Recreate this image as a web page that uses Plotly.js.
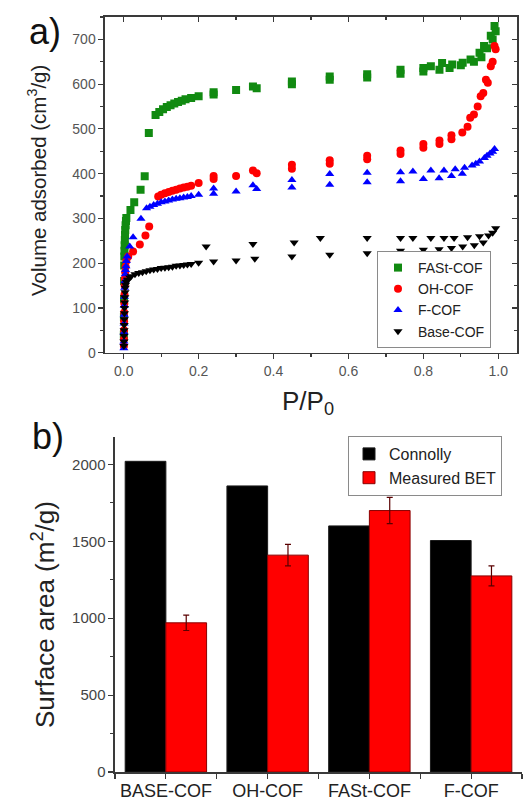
<!DOCTYPE html>
<html>
<head>
<meta charset="utf-8">
<script src="https://cdn.plot.ly/plotly-3.0.1.min.js"></script>
<style>html,body{margin:0;padding:0;background:#fff;}#chart{width:528px;height:803px;}</style>
</head>
<body>
<div id="chart"></div>
<script>
// ---- Panel a) isotherms ----
const seriesNames = ['FASt-COF', 'OH-COF', 'F-COF', 'Base-COF'];
const fastX = [0.0004,0.0006,0.0008,0.001,0.0013,0.0016,0.002,0.0025,0.003,0.0035,0.004,0.005,0.006,0.007,0.018,0.028,0.045,0.056,0.067,0.085,0.095,0.105,0.115,0.125,0.135,0.145,0.155,0.165,0.18,0.2,0.24,0.24,0.3,0.345,0.355,0.449,0.449,0.55,0.55,0.65,0.65,0.739,0.739,0.8,0.8,0.82,0.843,0.85,0.87,0.877,0.9,0.905,0.926,0.935,0.95,0.955,0.962,0.97,0.98,0.985,0.99,0.993];
const fastY = [40,80,120,160,195,215,228,240,252,263,274,285,294,301,319,336,364,394,491,531,538,544,549,553,557,560,563,566,569,573,577,582,587,595,591,600,606,610,617,615,622,623,632,628,636,640,632,647,636,644,642,648,655,650,670,660,685,680,708,700,730,718];
const ohX = [0.0004,0.0006,0.0008,0.001,0.0013,0.0016,0.002,0.0025,0.003,0.004,0.005,0.007,0.012,0.025,0.043,0.058,0.068,0.092,0.1,0.11,0.12,0.13,0.14,0.15,0.16,0.17,0.18,0.2,0.24,0.24,0.3,0.345,0.355,0.449,0.449,0.55,0.55,0.65,0.65,0.739,0.739,0.8,0.8,0.843,0.843,0.875,0.875,0.904,0.918,0.925,0.935,0.945,0.953,0.96,0.967,0.972,0.98,0.985,0.99,0.993];
const ohY = [15,30,50,70,90,110,130,150,165,180,192,205,215,226,242,262,282,349,353,356,359,362,364,367,369,371,373,379,388,395,395,407,401,411,420,422,430,432,440,444,452,458,466,466,474,477,486,492,505,525,532,550,573,580,610,603,640,650,685,678];
const fX = [0.0004,0.0006,0.0008,0.001,0.0013,0.0016,0.002,0.0025,0.003,0.004,0.005,0.006,0.007,0.009,0.016,0.025,0.046,0.061,0.07,0.08,0.09,0.1,0.11,0.12,0.13,0.14,0.15,0.16,0.17,0.18,0.2,0.24,0.24,0.3,0.345,0.355,0.449,0.449,0.55,0.55,0.65,0.65,0.739,0.739,0.772,0.8,0.82,0.842,0.855,0.875,0.885,0.904,0.91,0.93,0.94,0.95,0.963,0.97,0.978,0.985,0.99];
const fY = [10,25,45,65,85,105,125,145,160,175,185,193,205,215,237,258,299,323,326,330,333,336,338,340,342,344,345,347,348,350,353,355,367,360,374,366,369,386,375,399,381,402,383,403,405,388,407,390,407,395,410,400,413,418,422,427,435,440,445,449,455];
const baseX = [0.0004,0.0006,0.0008,0.001,0.0012,0.0015,0.0018,0.002,0.0025,0.003,0.0035,0.004,0.005,0.007,0.01,0.016,0.02,0.03,0.04,0.05,0.06,0.07,0.08,0.09,0.1,0.11,0.12,0.13,0.14,0.15,0.16,0.17,0.18,0.2,0.22,0.24,0.3,0.345,0.35,0.449,0.455,0.525,0.55,0.65,0.65,0.739,0.739,0.772,0.8,0.82,0.842,0.855,0.875,0.882,0.905,0.918,0.936,0.95,0.96,0.974,0.985,0.993];
const baseY = [15,25,38,50,62,75,88,100,112,124,135,145,152,158,163,168,171,175,178,180,182,184,186,187,189,190,191,192,194,195,196,197,198,201,237,204,206,243,210,215,246,256,219,222,256,228,256,256,230,256,231,256,234,256,237,258,240,260,246,262,268,278];

// ---- Panel b) surface areas ----
const categories = ['BASE-COF', 'OH-COF', 'FASt-COF', 'F-COF'];
const connolly = [2020, 1860, 1600, 1505];
const measuredBET = [970, 1410, 1700, 1275];
const betError = [50, 70, 85, 65];
const barNames = ['Connolly', 'Measured BET'];

const catPos = categories.map((c, i) => i);

const mk = (sym, color) => ({symbol: sym, size: 8, color: color, line: {width: 0}});

const traces = [
  {type: 'scatter', mode: 'markers', name: seriesNames[0], x: fastX, y: fastY, marker: mk('square', '#118a11'), xaxis: 'x', yaxis: 'y', legend: 'legend'},
  {type: 'scatter', mode: 'markers', name: seriesNames[1], x: ohX, y: ohY, marker: mk('circle', '#ff0000'), xaxis: 'x', yaxis: 'y', legend: 'legend'},
  {type: 'scatter', mode: 'markers', name: seriesNames[2], x: fX, y: fY, marker: mk('triangle-up', '#0000ff'), xaxis: 'x', yaxis: 'y', legend: 'legend'},
  {type: 'scatter', mode: 'markers', name: seriesNames[3], x: baseX, y: baseY, marker: mk('triangle-down', '#000000'), xaxis: 'x', yaxis: 'y', legend: 'legend'},
  {type: 'scatter', mode: 'markers', x: [], y: [], xaxis: 'x3', yaxis: 'y3', showlegend: false, hoverinfo: 'skip'},
  {type: 'bar', name: barNames[0], x: catPos, y: connolly, xaxis: 'x2', yaxis: 'y2', legend: 'legend2',
   marker: {color: '#000000', line: {color: '#1a1a1a', width: 1}}},
  {type: 'bar', name: barNames[1], x: catPos, y: measuredBET, xaxis: 'x2', yaxis: 'y2', legend: 'legend2',
   marker: {color: '#ff0000', line: {color: '#8a0000', width: 1}},
   error_y: {type: 'data', array: betError, visible: true, color: '#5a0000', thickness: 1.2, width: 3}}
];

const axisLine = '#3a3a3a';
const topXRange = [-0.05, 1.05];
const topYRange = [0, 750];

const layout = {
  width: 528, height: 803,
  margin: {l: 0, r: 0, t: 0, b: 0},
  paper_bgcolor: '#ffffff', plot_bgcolor: '#ffffff',
  font: {family: 'Liberation Sans, Arial, sans-serif', color: '#333'},
  barmode: 'group', bargap: 0.2, bargroupgap: 0,
  xaxis: {domain: [0.19886, 0.97917], anchor: 'y', range: topXRange, dtick: 0.2, tick0: 0, tickformat: '.1f',
    showline: true, linecolor: axisLine, linewidth: 1.5, ticks: 'outside', ticklen: 5, tickcolor: axisLine, tickwidth: 1.2,
    minor: {ticks: 'outside', dtick: 0.1, tick0: 0, ticklen: 3, tickcolor: axisLine},
    showgrid: false, zeroline: false, tickfont: {size: 14, color: '#555'}},
  yaxis: {domain: [0.56077, 0.97883], anchor: 'x', range: topYRange, dtick: 100, tick0: 0,
    showline: true, linecolor: axisLine, linewidth: 1.5, ticks: 'outside', ticklen: 5, tickcolor: axisLine, tickwidth: 1.2,
    minor: {ticks: 'outside', dtick: 50, tick0: 0, ticklen: 3, tickcolor: axisLine},
    showgrid: false, zeroline: false, tickfont: {size: 14, color: '#555'}},
  xaxis3: {overlaying: 'x', side: 'top', anchor: 'y', range: topXRange, dtick: 0.2, tick0: 0,
    showline: true, linecolor: axisLine, linewidth: 1.5, ticks: 'inside', ticklen: 5, tickcolor: axisLine, tickwidth: 1.2,
    minor: {ticks: 'inside', dtick: 0.1, tick0: 0, ticklen: 3, tickcolor: axisLine},
    showticklabels: false, showgrid: false, zeroline: false},
  yaxis3: {overlaying: 'y', side: 'right', anchor: 'x', range: topYRange, dtick: 100, tick0: 0,
    showline: true, linecolor: axisLine, linewidth: 1.5, ticks: 'inside', ticklen: 5, tickcolor: axisLine, tickwidth: 1.2,
    minor: {ticks: 'inside', dtick: 50, tick0: 0, ticklen: 3, tickcolor: axisLine},
    showticklabels: false, showgrid: false, zeroline: false},
  xaxis2: {domain: [0.2178, 0.98864], anchor: 'y2', range: [-0.5, 3.5], tickmode: 'array', tickvals: catPos, ticktext: categories,
    showline: true, linecolor: axisLine, linewidth: 1.5, ticks: 'outside', ticklen: 5, tickcolor: axisLine, tickwidth: 1.2,
    minor: {ticks: 'outside', tick0: 0.5, dtick: 1, ticklen: 5, tickcolor: axisLine, tickwidth: 1.2},
    ticklabelstandoff: -3,
    showgrid: false, zeroline: false, tickfont: {size: 18, color: '#222'}},
  yaxis2: {domain: [0.0386, 0.45616], anchor: 'x2', range: [0, 2180], dtick: 500, tick0: 0,
    showline: true, linecolor: axisLine, linewidth: 1.5, ticks: 'outside', ticklen: 5, tickcolor: axisLine, tickwidth: 1.2,
    minor: {ticks: 'outside', dtick: 250, tick0: 0, ticklen: 3, tickcolor: axisLine},
    showgrid: false, zeroline: false, tickfont: {size: 15, color: '#444'}},
  legend: {x: 377/528, y: 1 - 348/803, xanchor: 'left', yanchor: 'bottom', bgcolor: '#ffffff',
    bordercolor: '#8a8a8a', borderwidth: 1, font: {size: 14, color: '#222'}, tracegroupgap: 0},
  legend2: {x: 348/528, y: 1 - 436/803, xanchor: 'left', yanchor: 'top', bgcolor: '#ffffff',
    bordercolor: '#8a8a8a', borderwidth: 1, font: {size: 16, color: '#222'}, tracegroupgap: 0},
  annotations: [
    {text: 'a)', xref: 'paper', yref: 'paper', x: 27/528, y: 1 - 31/803, xanchor: 'left', yanchor: 'middle', showarrow: false, font: {size: 36, color: '#111'}},
    {text: 'b)', xref: 'paper', yref: 'paper', x: 30/528, y: 1 - 437/803, xanchor: 'left', yanchor: 'middle', showarrow: false, font: {size: 36, color: '#111'}},
    {text: 'Volume adsorbed (cm<sup>3</sup>/g)', xref: 'paper', yref: 'paper', x: 37/528, y: 1 - 181/803, xanchor: 'center', yanchor: 'middle', textangle: -90, showarrow: false, font: {size: 20.5, color: '#222'}},
    {text: 'P/P<sub>0</sub>', xref: 'paper', yref: 'paper', x: 308/528, y: 1 - 402/803, xanchor: 'center', yanchor: 'middle', showarrow: false, font: {size: 26, color: '#222'}},
    {text: 'Surface area (m<sup>2</sup>/g)', xref: 'paper', yref: 'paper', x: 43/528, y: 1 - 615/803, xanchor: 'center', yanchor: 'middle', textangle: -90, showarrow: false, font: {size: 26, color: '#222'}}
  ],
  showlegend: true
};

Plotly.newPlot('chart', traces, layout, {displayModeBar: false, staticPlot: true});
</script>
</body>
</html>
